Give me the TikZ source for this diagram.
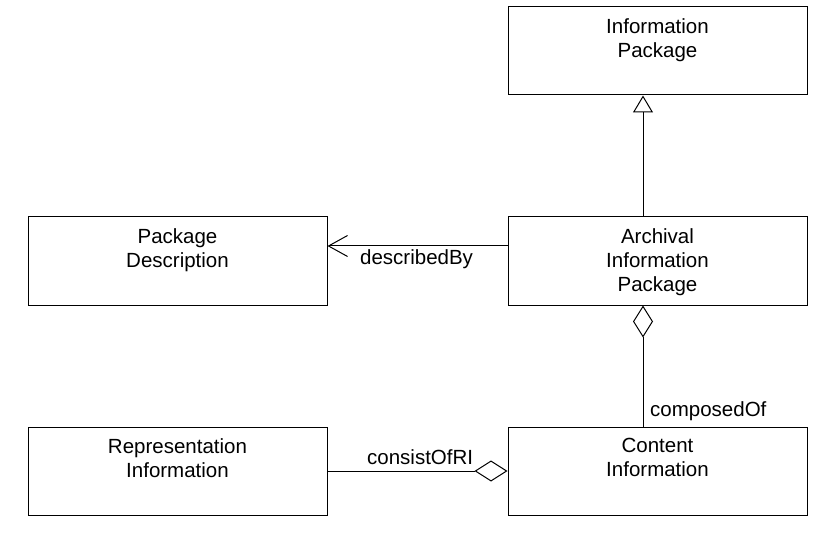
\documentclass[tikz,border=0pt]{standalone}
\usepackage{fontspec}
\setmainfont{Liberation Sans}
\usetikzlibrary{arrows.meta}
\begin{document}
\begin{tikzpicture}[x=1pt,y=-1pt,
  box/.style={draw,line width=1pt,minimum width=299pt,minimum height=88pt,inner sep=0pt},
  boxtext/.style={anchor=north,align=center,inner sep=0pt,font=\fontsize{20.5}{24}\selectfont},
  edgelabel/.style={anchor=base west,inner sep=0pt,font=\fontsize{20.5}{24}\selectfont},
  conn/.style={line width=1pt},
  gen/.style={conn,-{Triangle[open,length=17pt,width=20pt,line width=1pt]}},
  assoc/.style={conn,-{Straight Barb[length=19pt,width=21pt,line width=1pt]}},
  aggr/.style={conn,-{Diamond[open,length=32pt,width=20pt,line width=1pt]}},
  aggrh/.style={conn,-{Diamond[open,length=33pt,width=21pt,line width=1pt]}}
]
\useasboundingbox (0,0) rectangle (825,540);
\fill[white] (0,0) rectangle (825,540);

\node[box] (ip) at (657.5,51) {};
\node[box] (pd) at (177.5,261) {};
\node[box] (aip) at (657.5,261) {};
\node[box] (ri) at (177.5,471) {};
\node[box] (ci) at (657.5,471) {};

\node[boxtext] (ipt) at (657.5,18.3) {Information\\Package};
\node[boxtext] (pdt) at (177.5,228.3) {Package\\Description};
\node[boxtext] (aipt) at (657.5,228.3) {Archival\\Information\\Package};
\node[boxtext] (rit) at (177.5,438.3) {Representation\\Information};
\node[boxtext] (cit) at (657.5,438.3) {Content\\Information};

\coordinate (xline) at (643,0);
\coordinate (ydesc) at (0,246);

\draw[gen] (aip.north -| xline) -- (ip.south -| xline);
\draw[assoc] (aip.west |- ydesc) -- (pd.east |- ydesc);
\draw[aggr] (ci.north -| xline) -- (aip.south -| xline);
\draw[aggrh] (ri.east) -- (ci.west);

\node[edgelabel] (lbldesc) at (360,265) {describedBy};
\node[edgelabel] (lblcomp) at (650,416) {composedOf};
\node[edgelabel] (lblcons) at (367,464) {consistOfRI};
\end{tikzpicture}
\end{document}
